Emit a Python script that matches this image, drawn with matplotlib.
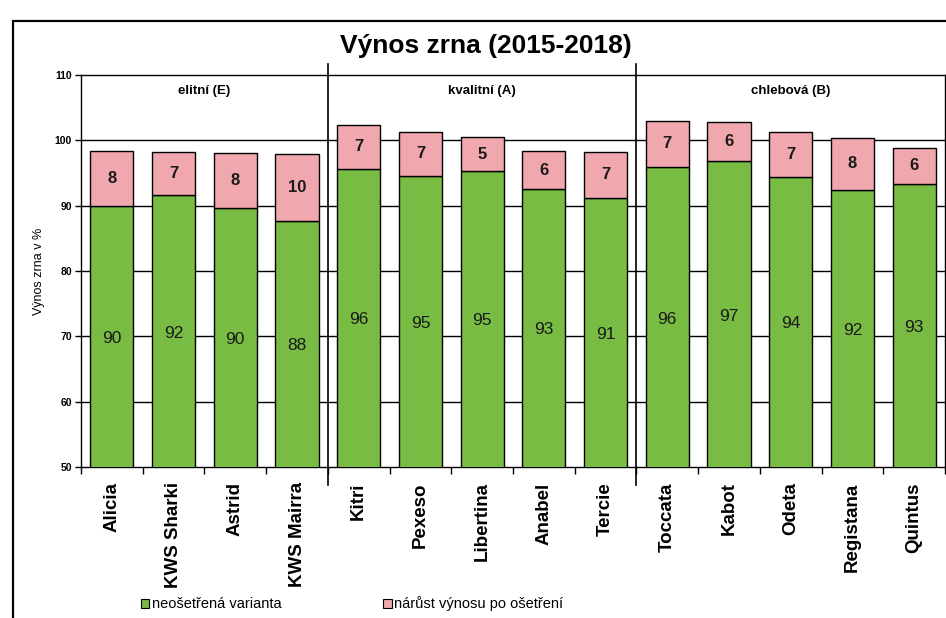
import numpy as np
import matplotlib
matplotlib.use("Agg")
import matplotlib.pyplot as plt
from matplotlib.patches import Rectangle

plt.rcParams['font.family'] = ['Liberation Sans', 'DejaVu Sans']

# --- data ---
varieties = ["Alicia", "KWS Sharki", "Astrid", "KWS Mairra",
             "Kitri", "Pexeso", "Libertina", "Anabel", "Tercie",
             "Toccata", "Kabot", "Odeta", "Registana", "Quintus"]
untreated = [89.9, 91.6, 89.7, 87.7, 95.6, 94.6, 95.3, 92.6, 91.2,
             95.9, 96.8, 94.4, 92.4, 93.3]
increase = [8.4, 6.6, 8.3, 10.2, 6.8, 6.7, 5.2, 5.7, 7.0,
            7.1, 6.0, 6.8, 8.0, 5.6]
groups = ["elitní (E)", "kvalitní (A)", "chlebová (B)"]
group_sizes = [4, 5, 5]
legend_labels = ["neošetřená varianta", "nárůst výnosu po ošetření"]

green = '#79bc44'
pink = '#f1a7ae'

W, H = 946, 618
fig = plt.figure(figsize=(W / 100, H / 100), dpi=100)
ax = fig.add_axes([81 / W, 151 / H, 864 / W, 392 / H])

# outer frame of the chart
fig.patches.append(Rectangle((13 / W, -0.1), 1.2, 1.1 - 21 / H,
                             transform=fig.transFigure, fill=False,
                             edgecolor='black', lw=1.6))

x = np.arange(len(varieties))
ymin, ymax = 50, 110

ax.bar(x, untreated, width=0.7, color=green, edgecolor='black', lw=1, zorder=3)
ax.bar(x, increase, bottom=untreated, width=0.7, color=pink,
       edgecolor='black', lw=1, zorder=3)

for xi, u, d in zip(x, untreated, increase):
    ax.text(xi, (ymin + u) / 2 - 0.3, f"{u:.0f}", ha='center', va='center',
            fontsize=12.5, color='#1a1a1a', zorder=4)
    ax.text(xi, u + d / 2, f"{d:.0f}", ha='center', va='center',
            fontsize=12, fontweight='bold', color='#1a1a1a', zorder=4)

ax.set_ylim(ymin, ymax)
ax.set_xlim(-0.5, len(varieties) - 0.5)
ax.set_yticks(np.arange(50, 111, 10))
for lab in ax.get_yticklabels():
    lab.set_fontweight('bold')
ax.tick_params(axis='y', labelsize=7.5, length=4.5, width=1, pad=2)
for yv in range(60, 101, 10):
    ax.axhline(yv, color='black', lw=1, zorder=1)

# boundary ticks and labels at centres
ax.set_xticks(np.arange(len(varieties) + 1) - 0.5)
ax.set_xticklabels([])
ax.tick_params(axis='x', which='major', length=5, width=1)
ax.set_xticks(x, minor=True)
ax.set_xticklabels(varieties, minor=True, rotation=90, fontsize=13.5,
                   fontweight='bold', va='top')
ax.tick_params(axis='x', which='minor', length=0, pad=11)

for sp in ax.spines.values():
    sp.set_linewidth(1)

# group separators and headers
edges = np.cumsum([0] + group_sizes) - 0.5
for b in edges[1:-1]:
    ax.plot([b, b], [-18 / 392, 1 + 11 / 392], color='black', lw=1.2,
            transform=ax.get_xaxis_transform(), clip_on=False, zorder=5)
for g, lo, hi in zip(groups, edges[:-1], edges[1:]):
    ax.text((lo + hi) / 2, 107.6, g, ha='center', va='center',
            fontsize=9.5, fontweight='bold')

ax.set_ylabel("Výnos zrna v %", fontsize=9, labelpad=7)

fig.text(486 / W, 1 - 46 / H, "Výnos zrna (2015-2018)", ha='center', va='center',
         fontsize=19, fontweight='bold')

handles = [Rectangle((0, 0), 1, 1, facecolor=green, edgecolor='black', lw=0.8),
           Rectangle((0, 0), 1, 1, facecolor=pink, edgecolor='black', lw=0.8)]
fig.legend(handles, legend_labels, loc='center left',
           bbox_to_anchor=(135 / W, 1 - 604 / H), ncol=2, frameon=False,
           fontsize=10.5, handlelength=0.55, handleheight=0.55,
           handletextpad=0.2, columnspacing=7.0, borderaxespad=0)

fig.savefig("out.png", dpi=100)
